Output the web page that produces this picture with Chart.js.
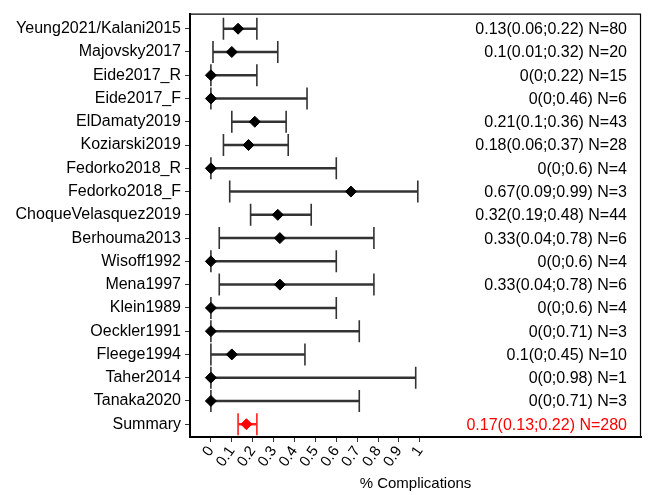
<!DOCTYPE html>
<html>
<head>
<meta charset="utf-8">
<script src="https://cdn.jsdelivr.net/npm/chart.js@4/dist/chart.umd.min.js"></script>
<style>
html,body{margin:0;padding:0;background:#fff;}
#wrap{width:648px;height:495px;}
</style>
</head>
<body>
<div id="wrap"><canvas id="c" width="648" height="495"></canvas></div>
<script>
const studies = ["Yeung2021/Kalani2015","Majovsky2017","Eide2017_R","Eide2017_F","ElDamaty2019","Koziarski2019","Fedorko2018_R","Fedorko2018_F","ChoqueVelasquez2019","Berhouma2013","Wisoff1992","Mena1997","Klein1989","Oeckler1991","Fleege1994","Taher2014","Tanaka2020","Summary"];
const estimate = [0.13,0.1,0,0,0.21,0.18,0,0.67,0.32,0.33,0,0.33,0,0,0.1,0,0,0.17];
const lower    = [0.06,0.01,0,0,0.1,0.06,0,0.09,0.19,0.04,0,0.04,0,0,0,0,0,0.13];
const upper    = [0.22,0.32,0.22,0.46,0.36,0.37,0.6,0.99,0.48,0.78,0.6,0.78,0.6,0.71,0.45,0.98,0.71,0.22];
const nCount   = [80,20,15,6,43,28,4,3,44,6,4,6,4,3,10,1,3,280];
const xTicks   = [0,0.1,0.2,0.3,0.4,0.5,0.6,0.7,0.8,0.9,1];
const xTitle   = "% Complications";

const summaryIdx = studies.length - 1;
const colorOf = i => i === summaryIdx ? '#ff0000' : '#000000';
const lineColorOf = i => i === summaryIdx ? '#ff2020' : '#333333';
const annot = studies.map((s,i)=> `${estimate[i]}(${lower[i]};${upper[i]}) N=${nCount[i]}`);

const FONT = "'Liberation Sans', Arial, Helvetica, sans-serif";

const errorBars = {
  id:'errorBars',
  beforeDatasetsDraw(chart){
    const {ctx, scales:{x,y}} = chart;
    ctx.save();
    for(let i=0;i<studies.length;i++){
      const py = y.getPixelForValue(i+1);
      const x1 = x.getPixelForValue(lower[i]);
      const x2 = x.getPixelForValue(upper[i]);
      ctx.strokeStyle = lineColorOf(i);
      ctx.lineWidth = 2.5;
      ctx.beginPath(); ctx.moveTo(x1,py); ctx.lineTo(x2,py); ctx.stroke();
      ctx.lineWidth = 1.6;
      ctx.beginPath();
      ctx.moveTo(x1,py-11); ctx.lineTo(x1,py+11);
      ctx.moveTo(x2,py-11); ctx.lineTo(x2,py+11);
      ctx.stroke();
    }
    ctx.restore();
  },
  afterDraw(chart){
    const {ctx, chartArea:a, scales:{y}} = chart;
    ctx.save();
    ctx.strokeStyle='#000'; ctx.lineWidth=1.2;
    ctx.beginPath();
    ctx.moveTo(a.left,a.top+0.5); ctx.lineTo(a.right-0.5,a.top+0.5); ctx.lineTo(a.right-0.5,a.bottom);
    ctx.stroke();
    ctx.font = "16px " + FONT;
    ctx.textAlign='right'; ctx.textBaseline='middle';
    for(let i=0;i<studies.length;i++){
      ctx.fillStyle = colorOf(i);
      ctx.fillText(annot[i], a.right-14, y.getPixelForValue(i+1)+1);
    }
    ctx.restore();
  }
};

new Chart(document.getElementById('c'), {
  type:'scatter',
  data:{
    datasets:[{
      data: estimate.map((v,i)=>({x:v,y:i+1})),
      pointStyle:'rectRot',
      pointRadius:5.5,
      pointHoverRadius:5.5,
      backgroundColor: estimate.map((v,i)=>colorOf(i)),
      borderColor: estimate.map((v,i)=>colorOf(i)),
      borderWidth:1
    }]
  },
  options:{
    responsive:false,
    animation:false,
    layout:{padding:{top:8,right:7,left:0,bottom:0}},
    plugins:{legend:{display:false},tooltip:{enabled:false}},
    scales:{
      x:{
        type:'linear', min:-0.1, max:2.058,
        afterBuildTicks: s => { s.ticks = xTicks.map(v=>({value:v})); },
        afterFit: s => { s.height = 58; },
        ticks:{ color:'#000', font:{family:FONT,size:15}, minRotation:55, maxRotation:55, padding:1,
          callback: v => String(v) },
        grid:{ drawOnChartArea:false, drawTicks:true, tickLength:5, color:'#333', lineWidth:1 },
        border:{ display:true, color:'#000', width:2 },
        title:{ display:true, text:xTitle, color:'#000', font:{family:FONT,size:15}, padding:{top:0,bottom:2} }
      },
      y:{
        type:'linear', reverse:true, min:0.35, max:18.55,
        afterBuildTicks: s => { s.ticks = studies.map((n,i)=>({value:i+1})); },
        afterFit: s => { s.width = 190; },
        ticks:{ color:'#000', font:{family:FONT,size:16}, padding:4, autoSkip:false,
          callback: v => studies[v-1] },
        grid:{ drawOnChartArea:false, drawTicks:true, tickLength:5, color:'#333', lineWidth:1 },
        border:{ display:true, color:'#000', width:2 }
      }
    }
  },
  plugins:[errorBars]
});
</script>
</body>
</html>
